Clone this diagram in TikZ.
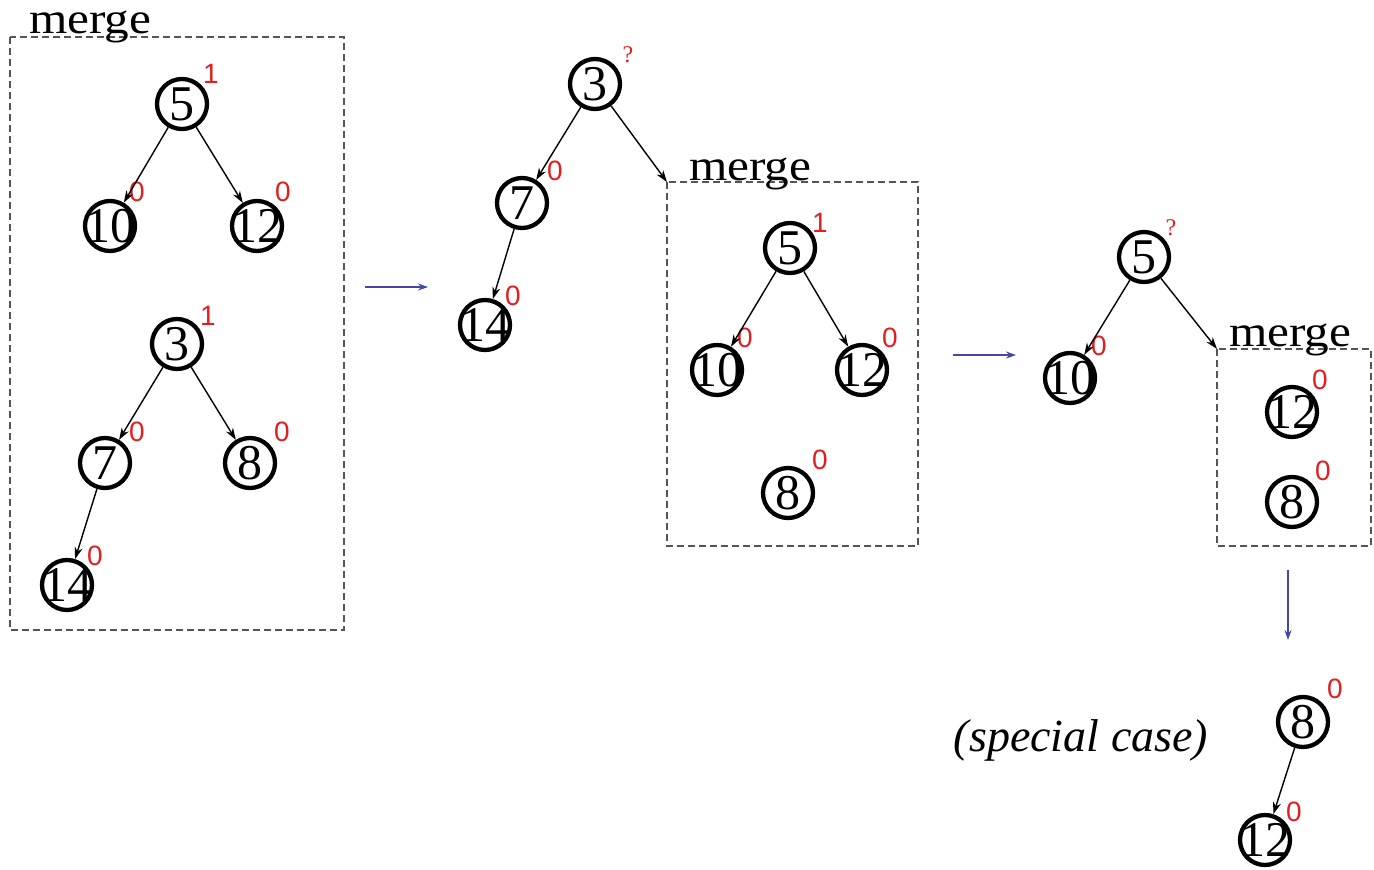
\documentclass[tikz,border=0pt]{standalone}
\usepackage{fontspec}
\setmainfont{Liberation Serif}
\newfontfamily\rankfont{Liberation Sans}
\usetikzlibrary{arrows.meta}
\definecolor{rankred}{HTML}{E02020}
\definecolor{stepblue}{HTML}{4646A6}
\definecolor{boxgray}{HTML}{555555}
\tikzset{
  hnode/.style={circle, draw=black, line width=4.3pt, minimum size=50pt, inner sep=0pt,
    font=\fontsize{50}{50}\selectfont},
  rank/.style={text=rankred, inner sep=0pt, font=\rankfont\fontsize{28}{28}\selectfont},
  qrank/.style={text=rankred, inner sep=0pt, font=\fontsize{24}{24}\selectfont},
  child/.style={line width=1.4pt, -{Stealth[length=12pt,width=8pt]}},
  stepper/.style={draw=stepblue, line width=1.7pt, -{Stealth[length=10pt,width=7pt,fill=stepblue]}},
  mergebox/.style={draw=boxgray, line width=2.2pt, dash pattern=on 7pt off 4pt},
  mlabel/.style={anchor=base west, inner sep=0pt, font=\fontsize{44}{44}\selectfont},
}
% keys are set in a zero-width box so every circle keeps the same size
\newcommand{\key}[1]{\makebox[0pt]{#1}}
\newcommand{\wide}[1]{\scalebox{1.12}[1]{#1}}
\begin{document}
\begin{tikzpicture}[x=1pt, y=-1pt]
\useasboundingbox (0,0) rectangle (1374,870);

% ---- first merge: two heaps ----
\draw[mergebox] (10,37) rectangle (344,630);
\node[mlabel] (m1) at (29,34) {\wide{merge}};
\node[hnode] (a5) at (182,104) {\key{5}};
\node[hnode] (a10) at (110,226) {\key{10}};
\node[hnode] (a12) at (257,226) {\key{12}};
\node[hnode] (a3) at (177,344) {\key{3}};
\node[hnode] (a7) at (105,463) {\key{7}};
\node[hnode] (a8) at (250,463) {\key{8}};
\node[hnode] (a14) at (67,585) {\key{14}};
\node[rank] (ra5) at (211,74) {1};
\node[rank] (ra10) at (137,192) {0};
\node[rank] (ra12) at (283,192) {0};
\node[rank] (ra3) at (208,316) {1};
\node[rank] (ra7) at (137,432) {0};
\node[rank] (ra8) at (282,432) {0};
\node[rank] (ra14) at (95,556) {0};
\draw[child] (a5) -- (a10);
\draw[child] (a5) -- (a12);
\draw[child] (a3) -- (a7);
\draw[child] (a3) -- (a8);
\draw[child] (a7) -- (a14);

\coordinate (s1a) at (365,287);
\coordinate (s1b) at (428,287);
\draw[stepper] (s1a) -- (s1b);

% ---- second step ----
\node[hnode] (b3) at (595,84) {\key{3}};
\node[hnode] (b7) at (522,203) {\key{7}};
\node[hnode] (b14) at (485,325) {\key{14}};
\node[qrank] (rb3) at (628,55) {?};
\node[rank] (rb7) at (555,171) {0};
\node[rank] (rb14) at (513,296) {0};
\draw[child] (b3) -- (b7);
\draw[child] (b7) -- (b14);
\draw[mergebox] (667,182) rectangle (918,546);
\coordinate (box2) at (667,182);
\node[mlabel] (m2) at (689,180) {\wide{merge}};
\draw[child] (b3) -- (box2);
\node[hnode] (c5) at (790,248) {\key{5}};
\node[hnode] (c10) at (717,370) {\key{10}};
\node[hnode] (c12) at (862,370) {\key{12}};
\node[hnode] (c8) at (788,493) {\key{8}};
\node[rank] (rc5) at (820,223) {1};
\node[rank] (rc10) at (745,338) {0};
\node[rank] (rc12) at (890,338) {0};
\node[rank] (rc8) at (820,460) {0};
\draw[child] (c5) -- (c10);
\draw[child] (c5) -- (c12);

\coordinate (s2a) at (953,355);
\coordinate (s2b) at (1016,355);
\draw[stepper] (s2a) -- (s2b);

% ---- third step ----
\node[hnode] (d5) at (1144,257) {\key{5}};
\node[hnode] (d10) at (1070,378) {\key{10}};
\node[qrank] (rd5) at (1171,228) {?};
\node[rank] (rd10) at (1099,346) {0};
\draw[child] (d5) -- (d10);
\draw[mergebox] (1217,349) rectangle (1371,546);
\coordinate (box3) at (1217,349);
\node[mlabel] (m3) at (1229,346) {\wide{merge}};
\draw[child] (d5) -- (box3);
\node[hnode] (e12) at (1292,412) {\key{12}};
\node[hnode] (e8) at (1292,502) {\key{8}};
\node[rank] (re12) at (1320,380) {0};
\node[rank] (re8) at (1323,471) {0};

\coordinate (s3a) at (1288,570);
\coordinate (s3b) at (1288,640);
\draw[stepper] (s3a) -- (s3b);

% ---- special case result ----
\node[inner sep=0pt, font=\fontsize{46}{46}\selectfont\itshape] (sc) at (1081,740) {(special case)};
\node[hnode] (f8) at (1303,722) {\key{8}};
\node[hnode] (f12) at (1265,840) {\key{12}};
\node[rank] (rf8) at (1335,689) {0};
\node[rank] (rf12) at (1294,812) {0};
\draw[child] (f8) -- (f12);
\end{tikzpicture}
\end{document}
